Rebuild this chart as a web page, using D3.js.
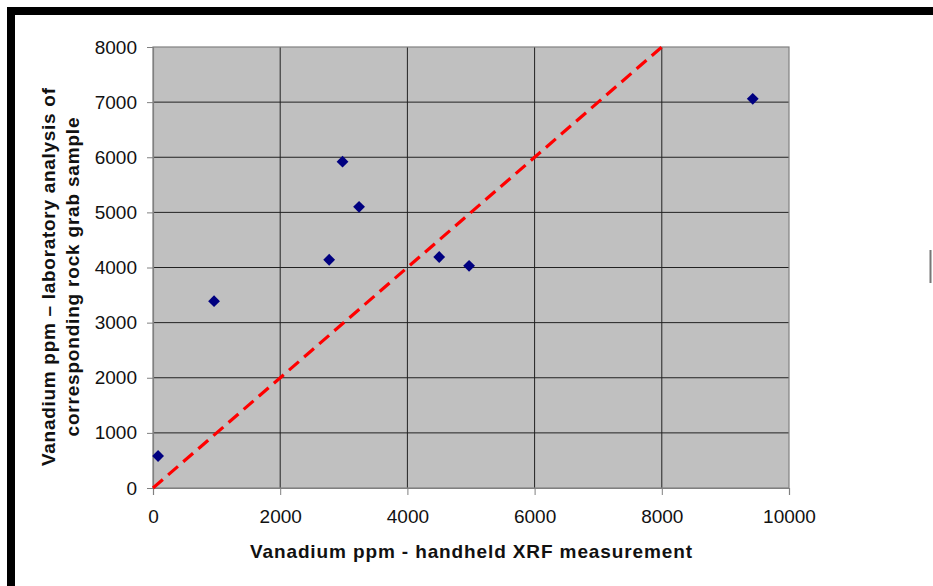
<!DOCTYPE html>
<html><head><meta charset="utf-8">
<script src="https://cdn.jsdelivr.net/npm/d3@7"></script>
<style>body{margin:0;background:#fff;}svg{display:block;}</style>
</head><body>
<svg id="c" width="933" height="586"></svg>
<script>
const xValues = [80, 960, 2980, 3240, 2770, 4500, 4970, 9430];
const yValues = [580, 3390, 5920, 5100, 4140, 4190, 4030, 7060];
const xTicks = [0, 2000, 4000, 6000, 8000, 10000];
const yTicks = [0, 1000, 2000, 3000, 4000, 5000, 6000, 7000, 8000];
const refLine = [[0, 0], [8000, 8000]];
const xTitle = "Vanadium ppm - handheld XRF measurement";
const yTitleLines = ["Vanadium ppm \u2013 laboratory analysis of", "corresponding rock grab sample"];

const svg = d3.select("#c");
const font = "Arial, 'Liberation Sans', sans-serif";
const L = 153, R = 789, T = 47, B = 488;
const x = d3.scaleLinear().domain([0, 10000]).range([L, R]);
const y = d3.scaleLinear().domain([0, 8000]).range([B, T]);

// frame
svg.append("rect").attr("x", 7).attr("y", 7).attr("width", 926).attr("height", 8).attr("fill", "#000");
svg.append("rect").attr("x", 7).attr("y", 7).attr("width", 8).attr("height", 579).attr("fill", "#000");
svg.append("rect").attr("x", 929.5).attr("y", 250).attr("width", 2).attr("height", 33).attr("fill", "#777");

// plot bg
svg.append("rect").attr("x", L).attr("y", T).attr("width", R - L).attr("height", B - T).attr("fill", "#c0c0c0");

// grid
svg.append("g").selectAll("line").data(xTicks.slice(1, -1)).join("line")
  .attr("x1", d => x(d)).attr("x2", d => x(d)).attr("y1", T).attr("y2", B)
  .attr("stroke", "#222").attr("stroke-width", 1);
svg.append("g").selectAll("line").data(yTicks.slice(1, -1)).join("line")
  .attr("x1", L).attr("x2", R).attr("y1", d => y(d)).attr("y2", d => y(d))
  .attr("stroke", "#222").attr("stroke-width", 1);
svg.append("rect").attr("x", L).attr("y", T).attr("width", R - L).attr("height", B - T)
  .attr("fill", "none").attr("stroke", "#808080").attr("stroke-width", 1.2);

// axes
const xAxis = svg.append("g").attr("transform", `translate(0,${B})`)
  .call(d3.axisBottom(x).tickValues(xTicks).tickSize(7).tickPadding(15).tickFormat(d3.format("d")));
const yAxis = svg.append("g").attr("transform", `translate(${L},0)`)
  .call(d3.axisLeft(y).tickValues(yTicks).tickSize(6).tickPadding(10).tickFormat(d3.format("d")));
[xAxis, yAxis].forEach(a => {
  a.select(".domain").attr("stroke", "#808080").attr("stroke-width", 1.2);
  a.selectAll(".tick line").attr("stroke", "#808080");
  a.selectAll("text").attr("font-family", font).attr("font-size", 19).attr("fill", "#111");
});

// reference line
const line = d3.line().x(d => x(d[0])).y(d => y(d[1]));
svg.append("path").datum(refLine).attr("d", line)
  .attr("stroke", "#ff0000").attr("stroke-width", 3.2).attr("stroke-dasharray", "13,7").attr("fill", "none");

// points (square diamonds)
const pts = xValues.map((v, i) => [v, yValues[i]]);
svg.append("g").selectAll("path").data(pts).join("path")
  .attr("d", d3.symbol(d3.symbolSquare, 70)())
  .attr("transform", d => `translate(${x(d[0])},${y(d[1])}) rotate(45)`)
  .attr("fill", "#000080");

// titles
svg.append("text").attr("x", 471).attr("y", 558).attr("text-anchor", "middle")
  .attr("font-family", font).attr("font-weight", "bold").attr("font-size", 19)
  .attr("textLength", 442).attr("lengthAdjust", "spacing").attr("fill", "#111").text(xTitle);
const yLens = [378, 319];
yTitleLines.forEach((t, i) => {
  svg.append("text").attr("transform", `translate(${55 + i * 24},277) rotate(-90)`)
    .attr("text-anchor", "middle").attr("font-family", font).attr("font-weight", "bold")
    .attr("font-size", 19).attr("textLength", yLens[i]).attr("lengthAdjust", "spacing")
    .attr("fill", "#111").text(t);
});
</script>
</body></html>
